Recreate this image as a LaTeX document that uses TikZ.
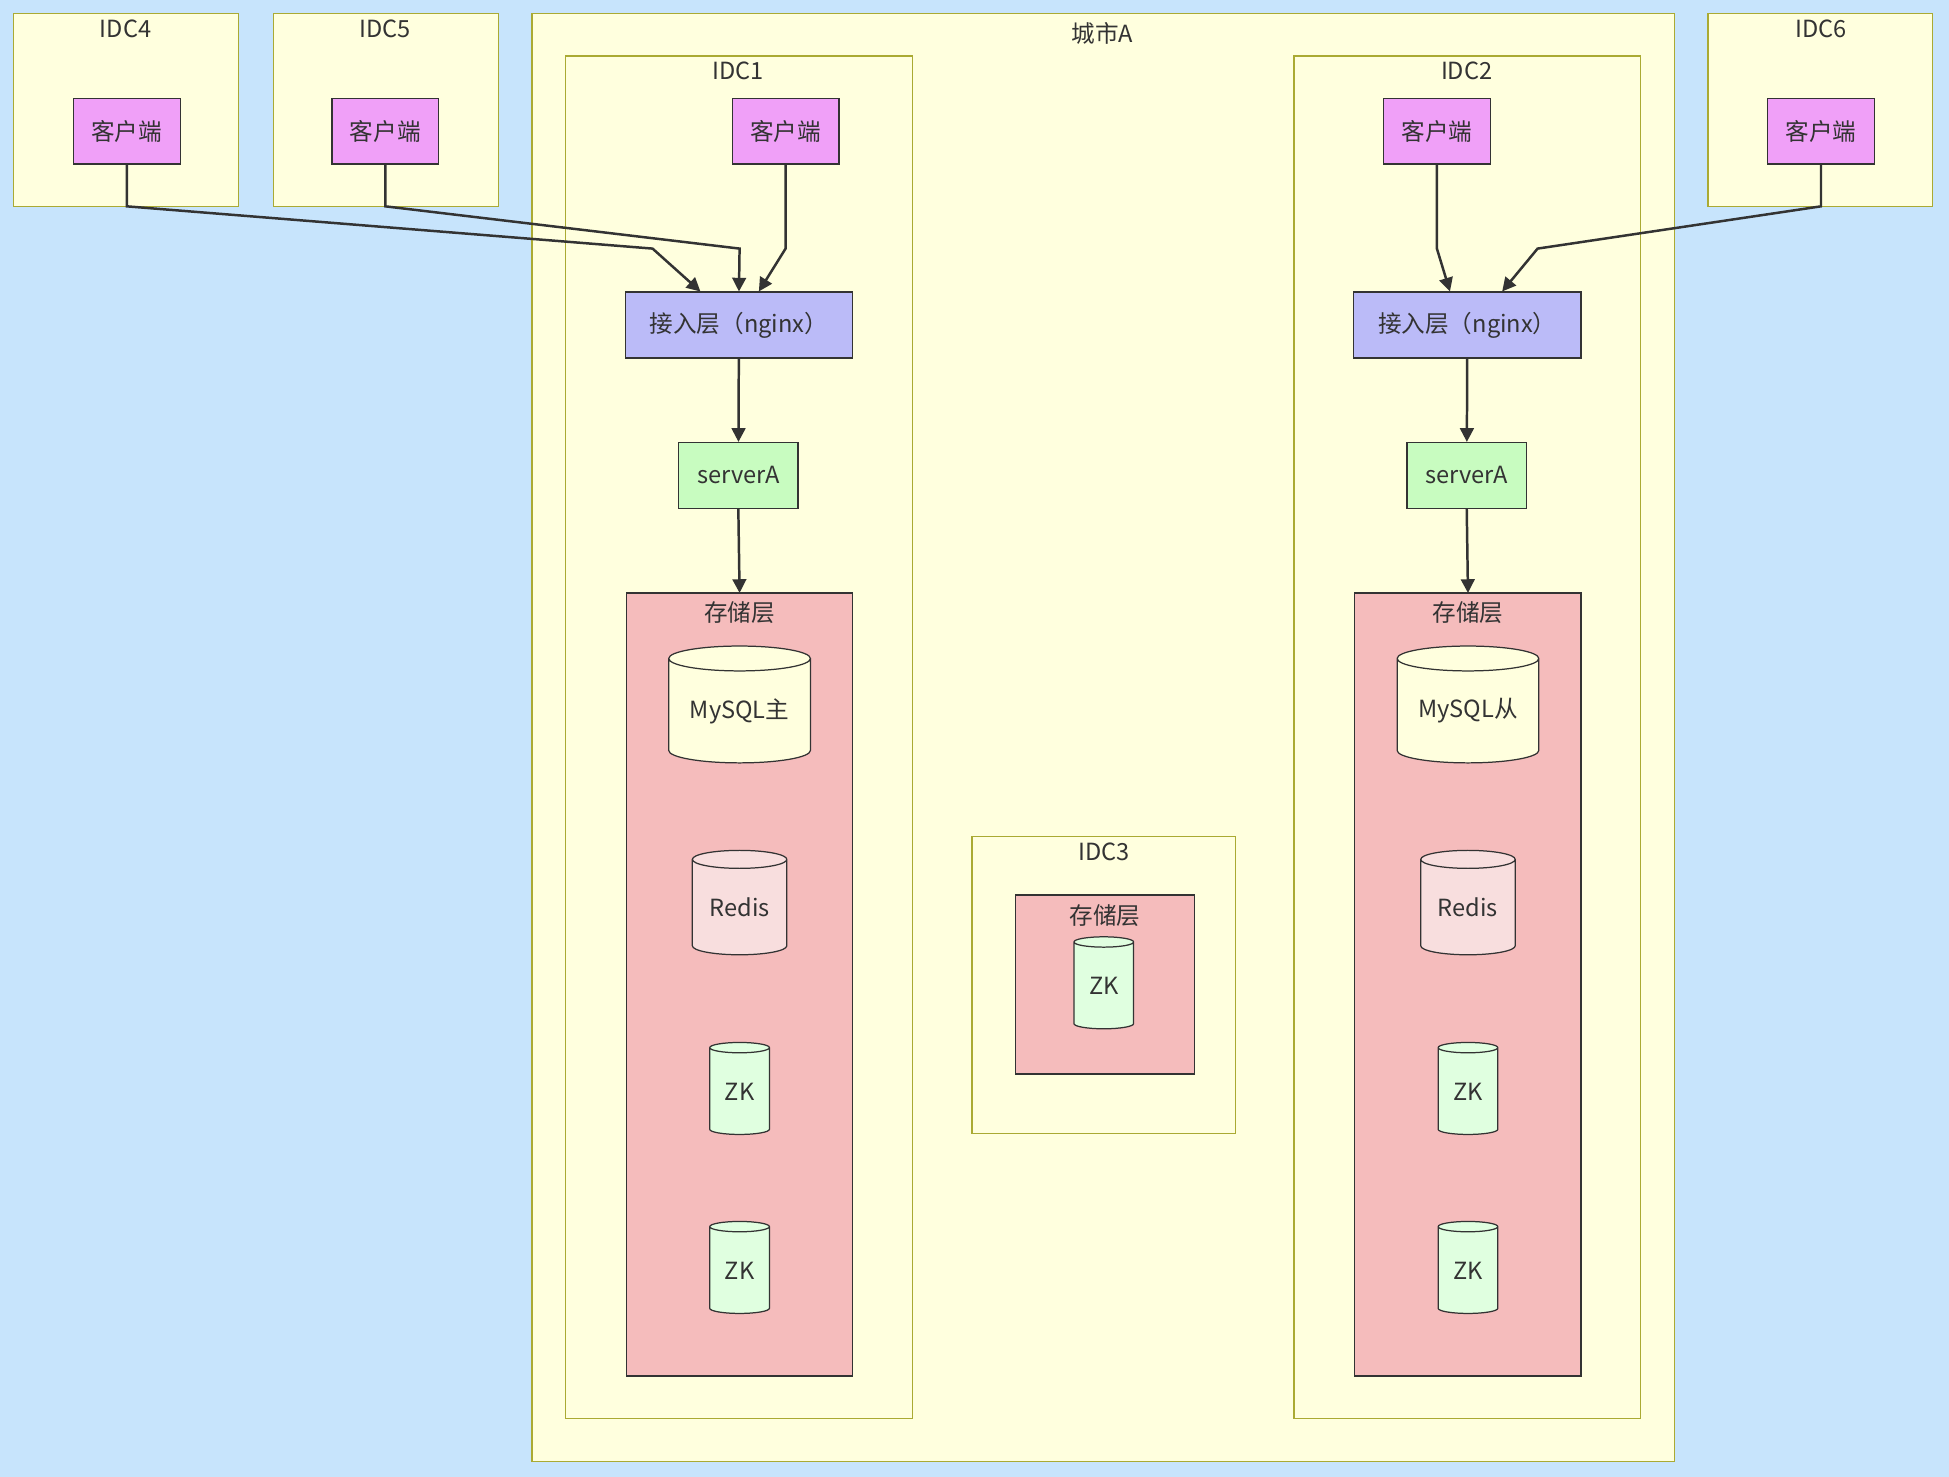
\documentclass[tikz,border=0pt]{standalone}
\usepackage{fontspec}
\setmainfont{Noto Sans CJK SC}
\usetikzlibrary{shapes.geometric,arrows.meta,calc}
\definecolor{bgblue}{HTML}{C7E4FC}
\definecolor{grpfill}{HTML}{FFFFDE}
\definecolor{grpline}{HTML}{AAAA33}
\definecolor{clientc}{HTML}{F0A0F8}
\definecolor{nginxc}{HTML}{BBBBF8}
\definecolor{serverc}{HTML}{C8FCC0}
\definecolor{storec}{HTML}{F5BCBC}
\definecolor{redisc}{HTML}{F8DEDE}
\definecolor{zkc}{HTML}{E0FFE0}
\definecolor{edgec}{HTML}{333333}
\tikzset{every picture/.style={line width=1.2pt}}
\tikzset{
  grp/.style={draw=grpline,fill=grpfill,line width=1pt},
  store/.style={draw=edgec,fill=storec,line width=1pt},
  ttl/.style={font=\fontsize{19}{22}\selectfont,text=edgec,anchor=center,inner sep=0pt},
  box/.style={draw=edgec,line width=1pt,font=\fontsize{19}{22}\selectfont,text=edgec,inner sep=0pt,minimum height=53},
  client/.style={box,fill=clientc,minimum width=86},
  nginx/.style={box,fill=nginxc,minimum width=183},
  server/.style={box,fill=serverc,minimum width=96},
  db/.style={cylinder,shape border rotate=90,draw=edgec,line width=1pt,font=\fontsize{19}{22}\selectfont,text=edgec,inner sep=0pt},
  link/.style={draw=edgec,line width=2pt,-{Triangle[length=11,width=11]}},
}
\begin{document}
\begin{tikzpicture}[x=1pt,y=-1pt]
\useasboundingbox (0,0) rectangle (1568,1188);
\fill[bgblue] (0,0) rectangle (1568,1188);
% groups
\draw[grp] (11,11) rectangle (192,166);
\node[ttl] (t4) at (101,23) {IDC4};
\draw[grp] (220,11) rectangle (401,166);
\node[ttl] (t5) at (310,23) {IDC5};
\draw[grp] (1374,11) rectangle (1555,166);
\node[ttl] (t6) at (1465,23) {IDC6};
\draw[grp] (428,11) rectangle (1347,1176);
\node[ttl] (tcity) at (887,27) {城市A};
\draw[grp] (455,45) rectangle (734,1141);
\node[ttl] (t1) at (594,57) {IDC1};
\draw[grp] (1041,45) rectangle (1320,1141);
\node[ttl] (t2) at (1180,57) {IDC2};
\draw[grp] (782,673) rectangle (994,912);
\node[ttl] (t3) at (888,685) {IDC3};
% storage layers
\draw[store] (504,477) rectangle (686,1107);
\node[ttl] (s1) at (595,493) {存储层};
\draw[store] (1090,477) rectangle (1272,1107);
\node[ttl] (s2) at (1181,493) {存储层};
\draw[store] (817,720) rectangle (961,864);
\node[ttl] (s3) at (889,737) {存储层};
% clients
\node[client] (c4) at (102,105.5) {客户端};
\node[client] (c5) at (310,105.5) {客户端};
\node[client] (c1) at (632,105.5) {客户端};
\node[client] (c2) at (1156,105.5) {客户端};
\node[client] (c6) at (1465,105.5) {客户端};
% access layer and servers
\node[nginx] (n1) at (594.5,261.5) {接入层（nginx）};
\node[nginx] (n2) at (1180.5,261.5) {接入层（nginx）};
\node[server] (a1) at (594,382.5) {serverA};
\node[server] (a2) at (1180,382.5) {serverA};
% databases
\node[db,fill=grpfill,minimum width=114,minimum height=94,aspect=0.25] (m1) at (595,572) {MySQL主};
\node[db,fill=grpfill,minimum width=114,minimum height=94,aspect=0.25] (m2) at (1181,572) {MySQL从};
\node[db,fill=redisc,minimum width=76,minimum height=84,aspect=0.3] (r1) at (595,730) {Redis};
\node[db,fill=redisc,minimum width=76,minimum height=84,aspect=0.3] (r2) at (1181,730) {Redis};
\node[db,fill=zkc,minimum width=48,minimum height=74,aspect=0.35] (z1) at (595,878) {ZK};
\node[db,fill=zkc,minimum width=48,minimum height=74,aspect=0.35] (z2) at (595,1022) {ZK};
\node[db,fill=zkc,minimum width=48,minimum height=74,aspect=0.35] (z3) at (1181,878) {ZK};
\node[db,fill=zkc,minimum width=48,minimum height=74,aspect=0.35] (z4) at (1181,1022) {ZK};
\node[db,fill=zkc,minimum width=48,minimum height=74,aspect=0.35] (z5) at (888,793) {ZK};
% connectors
\draw[link] (c4.south) -- (102,166) -- (525,200) -- ($(n1.north)+(-31,0)$);
\draw[link] (c5.south) -- (310,166) -- (595,200) -- (n1.north);
\draw[link] (c1.south) -- (632,200) -- ($(n1.north)+(16,0)$);
\draw[link] (c2.south) -- (1156,200) -- ($(n2.north)+(-14,0)$);
\draw[link] (c6.south) -- (1465,166) -- (1237,200) -- ($(n2.north)+(28,0)$);
\draw[link] (n1) -- (a1);
\draw[link] (n2) -- (a2);
\draw[link] (a1.south) -- (s1.north |- 477,477);
\draw[link] (a2.south) -- (s2.north |- 477,477);
\end{tikzpicture}
\end{document}
